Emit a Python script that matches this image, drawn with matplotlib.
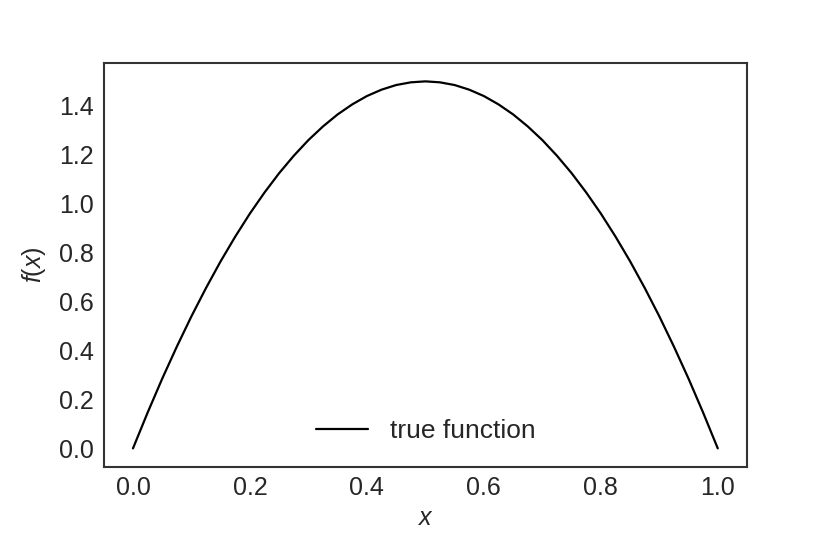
import matplotlib
matplotlib.use("Agg")
import matplotlib.pyplot as plt
import seaborn as sns
from matplotlib.ticker import MultipleLocator, FormatStrFormatter

sns.set_theme(style="white", context="talk")
plt.rcParams['font.family'] = ['Liberation Sans', 'DejaVu Sans']
plt.rcParams['mathtext.fontset'] = 'custom'
plt.rcParams['mathtext.it'] = 'Liberation Sans:italic'
plt.rcParams['mathtext.rm'] = 'Liberation Sans'

x_values = [0.0, 0.025, 0.05, 0.075, 0.1, 0.125, 0.15, 0.175, 0.2, 0.225, 0.25,
            0.275, 0.3, 0.325, 0.35, 0.375, 0.4, 0.425, 0.45, 0.475, 0.5,
            0.525, 0.55, 0.575, 0.6, 0.625, 0.65, 0.675, 0.7, 0.725, 0.75,
            0.775, 0.8, 0.825, 0.85, 0.875, 0.9, 0.925, 0.95, 0.975, 1.0]
f_values = [0.0, 0.146, 0.285, 0.416, 0.54, 0.656, 0.765, 0.866, 0.96, 1.046, 1.125,
            1.196, 1.26, 1.316, 1.365, 1.406, 1.44, 1.466, 1.485, 1.496, 1.5,
            1.496, 1.485, 1.466, 1.44, 1.406, 1.365, 1.316, 1.26, 1.196, 1.125,
            1.046, 0.96, 0.866, 0.765, 0.656, 0.54, 0.416, 0.285, 0.146, 0.0]

fig = plt.figure(figsize=(8.3, 5.34), dpi=100)
fig.subplots_adjust(left=0.125, right=0.9, bottom=0.126, top=0.882)
ax = fig.add_subplot(111)
ax.plot(x_values, f_values, color='black', linewidth=1.6, label='true function')
for s in ax.spines.values():
    s.set_color('#333333')
    s.set_linewidth(1.5)
ax.yaxis.set_major_locator(MultipleLocator(0.2))
ax.yaxis.set_major_formatter(FormatStrFormatter('%.1f'))
ax.tick_params(labelsize=18, colors='#262626', length=0, pad=7)
ax.set_xlabel(r'$x$', fontsize=18, labelpad=4)
ax.set_ylabel(r'$f(x)$', fontsize=18, labelpad=8)
ax.legend(loc='lower center', frameon=False, fontsize=19)
fig.savefig('out.png', dpi=100)
